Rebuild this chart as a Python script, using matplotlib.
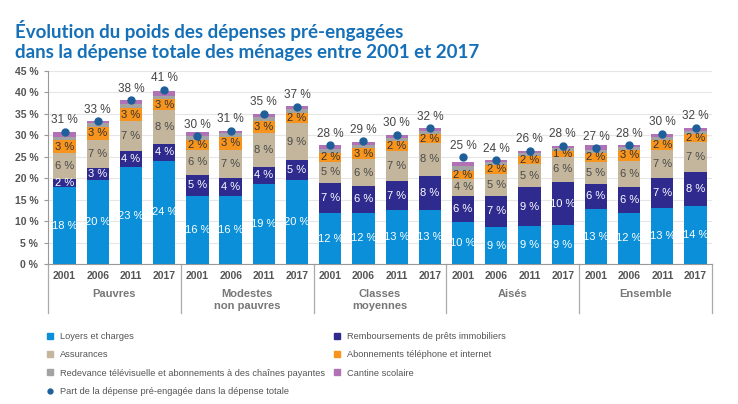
import numpy as np
import matplotlib
matplotlib.use("Agg")
import matplotlib.pyplot as plt
from matplotlib.lines import Line2D
import matplotlib.transforms as mtransforms

plt.rcParams['font.family'] = ['Liberation Sans Narrow', 'Liberation Sans', 'DejaVu Sans']

# données (en % de la dépense totale)
groups = ["Pauvres", "Modestes\nnon pauvres", "Classes\nmoyennes", "Aisés", "Ensemble"]
years = ["2001", "2006", "2011", "2017"]

loyers = [17.9, 19.6, 22.6, 24.1,
          15.9, 15.9, 18.6, 19.6,
          11.8, 12.0, 12.6, 12.6,
          9.9, 8.6, 8.9, 9.0,
          12.8, 12.0, 13.1, 13.6]
remboursements = [1.9, 2.8, 3.7, 4.0,
                  4.9, 4.2, 4.1, 4.6,
                  7.0, 6.2, 6.7, 8.0,
                  6.0, 7.3, 9.0, 10.1,
                  5.9, 6.0, 6.9, 7.8]
assurances = [6.1, 6.6, 7.0, 7.7,
              5.9, 6.6, 7.9, 8.6,
              5.1, 6.2, 7.1, 7.7,
              3.9, 5.2, 5.4, 5.9,
              5.2, 6.1, 6.6, 7.1]
abonnements = [2.9, 3.0, 3.1, 2.6,
               2.2, 3.0, 2.7, 2.4,
               1.9, 2.6, 2.3, 1.9,
               2.0, 2.1, 1.9, 1.4,
               1.9, 2.6, 2.3, 1.9]
redevance = [0.9, 0.8, 1.0, 0.8,
             1.0, 0.8, 1.0, 0.9,
             1.0, 0.7, 0.7, 0.8,
             1.0, 0.7, 0.6, 0.6,
             0.9, 0.6, 0.6, 0.6]
cantine = [1.1, 0.6, 0.8, 1.2,
           0.9, 0.6, 0.6, 0.8,
           0.9, 0.7, 0.7, 0.6,
           1.0, 0.4, 0.5, 0.6,
           1.0, 0.5, 0.8, 0.8]
part = [30.8, 33.3, 38.2, 40.6,
        29.8, 31.0, 35.0, 36.7,
        27.7, 28.6, 30.1, 31.6,
        24.9, 24.2, 26.4, 27.6,
        27.0, 27.7, 30.3, 31.7]

series = [
    ("Loyers et charges", loyers, "#0a8fd8", "white"),
    ("Remboursements de prêts immobiliers", remboursements, "#2e2a8e", "white"),
    ("Assurances", assurances, "#c3b69c", "#4a4a4a"),
    ("Abonnements téléphone et internet", abonnements, "#f7941d", "#333333"),
    ("Redevance télévisuelle et abonnements à des chaînes payantes", redevance, "#a3a3a3", None),
    ("Cantine scolaire", cantine, "#b072b4", None),
]

fig = plt.figure(figsize=(7.38, 4.04), dpi=100)
ax = fig.add_axes([0.065, 0.3465, 0.9, 0.4777])

x = np.arange(len(loyers))
bottom = np.zeros(len(x))
for name, vals, col, lcol in series:
    vals = np.array(vals)
    ax.bar(x, vals, 0.67, bottom=bottom, color=col, zorder=2)
    if lcol is not None:
        for xi, b, v in zip(x, bottom, vals):
            ax.text(xi, b + v / 2, f"{v:.0f} %", ha="center", va="center",
                    fontsize=8, color=lcol, zorder=3)
    bottom = bottom + vals

# part de la dépense pré-engagée
ax.plot(x, part, "o", color="#1f5f99", markersize=5, zorder=4)
for xi, p in zip(x, part):
    ax.text(xi, p + 1.3, f"{p:.0f} %", ha="center", va="bottom", fontsize=8.5, color="#444444")

ax.set_xlim(-0.5, len(x) - 0.5)
ax.set_ylim(0, 45)
ax.set_yticks(np.arange(0, 46, 5))
ax.set_yticklabels([f"{v} %" for v in range(0, 46, 5)], fontsize=7.5,
                   fontweight="bold", color="#555555")
ax.set_xticks(x)
ax.set_xticklabels(years * len(groups), fontsize=7.5, fontweight="bold", color="#555555")
ax.tick_params(axis="x", length=0, pad=5)
ax.tick_params(axis="y", length=3, color="#999999", pad=4)
ax.grid(axis="y", color="#e6e6e6", linewidth=0.8, zorder=0)
for s in ["top", "right"]:
    ax.spines[s].set_visible(False)
ax.spines["left"].set_color("#999999")
ax.spines["bottom"].set_color("#999999")

# séparateurs et noms des groupes
trans = mtransforms.blended_transform_factory(ax.transData, ax.transAxes)
for k in range(len(groups) + 1):
    xs = -0.5 + 4 * k
    ax.plot([xs, xs], [0, -0.255], color="#aaaaaa", linewidth=0.9,
            transform=trans, clip_on=False)
for k, g in enumerate(groups):
    ax.text(1.5 + 4 * k, -0.13, g, transform=trans, ha="center", va="top",
            fontsize=8, fontweight="bold", color="#777777", linespacing=1.2)

# titre
fig.text(0.02, 0.905, "Évolution du poids des dépenses pré-engagées",
         fontsize=13.5, fontweight="bold", color="#1670b8", family=["Lato", "DejaVu Sans"])
fig.text(0.02, 0.857, "dans la dépense totale des ménages entre 2001 et 2017",
         fontsize=13.5, fontweight="bold", color="#1670b8", family=["Lato", "DejaVu Sans"])

# légende
def sq(c):
    return Line2D([], [], marker="s", linestyle="none", color=c, markersize=4)

leg_kw = dict(loc="upper left", frameon=False, fontsize=6.7, handlelength=0.8,
              handletextpad=0.7, labelspacing=1.0, borderpad=0, borderaxespad=0)
h_left = [sq(series[0][2]), sq(series[2][2]), sq(series[4][2]),
          Line2D([], [], marker="o", linestyle="none", color="#1f5f99", markersize=3.5)]
l_left = [series[0][0], series[2][0], series[4][0],
          "Part de la dépense pré-engagée dans la dépense totale"]
h_right = [sq(series[1][2]), sq(series[3][2]), sq(series[5][2])]
l_right = [series[1][0], series[3][0], series[5][0]]
leg1 = fig.legend(h_left, l_left, bbox_to_anchor=(0.063, 0.178), **leg_kw)
leg2 = fig.legend(h_right, l_right, bbox_to_anchor=(0.451, 0.178), **leg_kw)
for leg in (leg1, leg2):
    for t in leg.get_texts():
        t.set_color("#555555")

fig.savefig("out.png", dpi=100)
